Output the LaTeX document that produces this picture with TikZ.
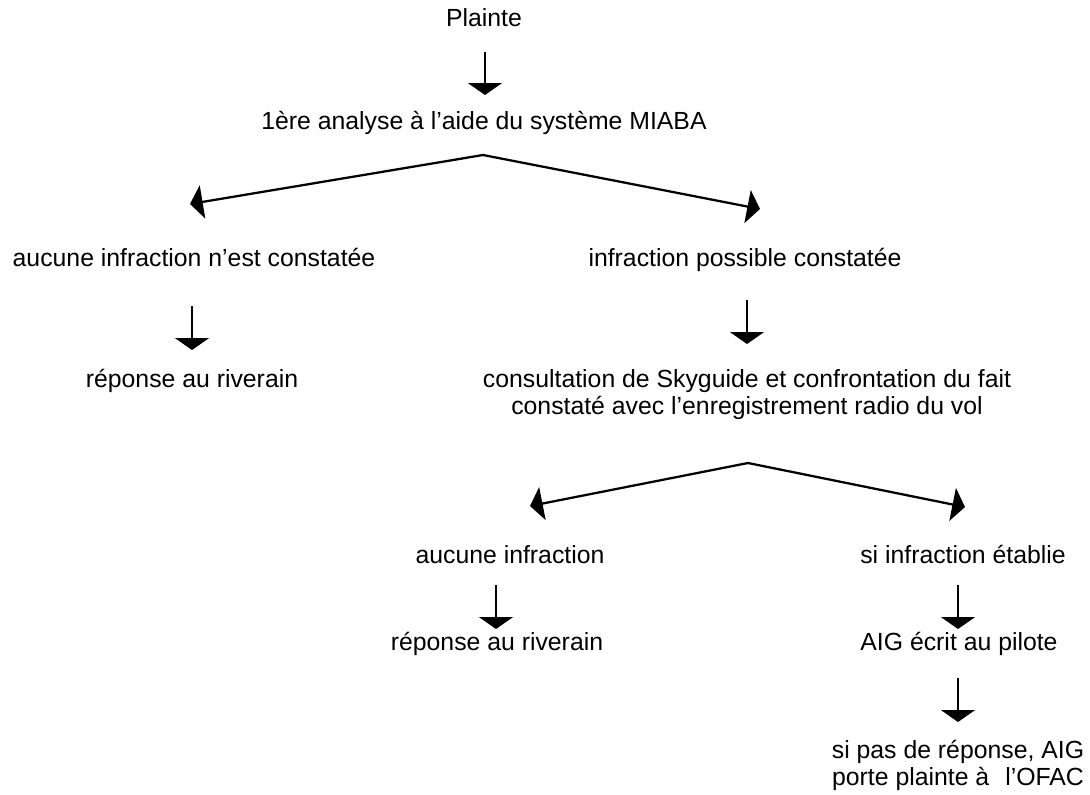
\documentclass[tikz,border=0pt]{standalone}
\usepackage{fontspec}
\setmainfont{Liberation Sans}
\usetikzlibrary{arrows.meta}
\begin{document}
\begin{tikzpicture}[x=0.75pt,y=-0.75pt,
  lbl/.style={inner sep=0pt, anchor=base, align=center, font=\fontsize{18.6}{20.25}\selectfont},
  arr/.style={line width=1.5pt, -{Triangle[length=9pt,width=25.5pt]}},
  brarr/.style={line width=1.7pt, -{Triangle[length=9.5pt,width=25pt]}}]
\useasboundingbox (0,0) rectangle (1090,794);
% nodes (multi-line nodes: base = baseline of last line)
\node[lbl] (plainte) at (484,26) {Plainte};
\node[lbl] (analyse) at (484,129) {1ère analyse à l’aide du système MIABA};
\node[lbl] (aucune1) at (194,266) {aucune infraction n’est constatée};
\node[lbl] (infpos) at (745,266) {infraction possible constatée};
\node[lbl] (rep1) at (192,387) {réponse au riverain};
\node[lbl] (consult) at (747,414) {consultation de Skyguide et confrontation du fait\\constaté avec l’enregistrement radio du vol};
\node[lbl] (aucune2) at (510,563) {aucune infraction};
\node[lbl] (infetab) at (963,563) {si infraction établie};
\node[lbl] (rep2) at (497,650) {réponse au riverain};
\node[lbl] (aig) at (959,650) {AIG écrit au pilote};
\node[lbl] (pasrep) at (958,785) {si pas de réponse, AIG\\porte plainte à\hspace{12pt}l’OFAC};
% branch geometry
\coordinate (apex1) at (483,155);
\coordinate (tipL1) at (190,204);
\coordinate (tipR1) at (760,209);
\coordinate (apex2) at (748,463);
\coordinate (tipL2) at (530,506);
\coordinate (tipR2) at (965,507);
% connectors
\draw[arr, shorten <=26*0.75pt, shorten >=34*0.75pt] ([xshift=0.75pt]plainte.base) -- ([xshift=0.75pt]analyse.base);
\draw[brarr] (apex1) -- (tipL1);
\draw[brarr] (apex1) -- (tipR1);
\draw[arr, shorten <=40*0.75pt, shorten >=37*0.75pt] (rep1.base |- aucune1.base) -- (rep1.base);
\draw[arr, shorten <=34*0.75pt, shorten >=70*0.75pt] (consult.base |- infpos.base) -- (consult.base);
\draw[brarr] (apex2) -- (tipL2);
\draw[brarr] (apex2) -- (tipR2);
\draw[arr, shorten <=22*0.75pt, shorten >=21*0.75pt] ([xshift=-14*0.75pt]aucune2.base) -- ([xshift=-1*0.75pt]rep2.base);
\draw[arr, shorten <=22*0.75pt, shorten >=21*0.75pt] ([xshift=-5*0.75pt]infetab.base) -- ([xshift=-1*0.75pt]aig.base);
\draw[arr, shorten <=28*0.75pt, shorten >=63*0.75pt] ([xshift=-1*0.75pt]aig.base) -- ([xshift=-1*0.75pt]aig.base |- pasrep.base);
\end{tikzpicture}
\end{document}
